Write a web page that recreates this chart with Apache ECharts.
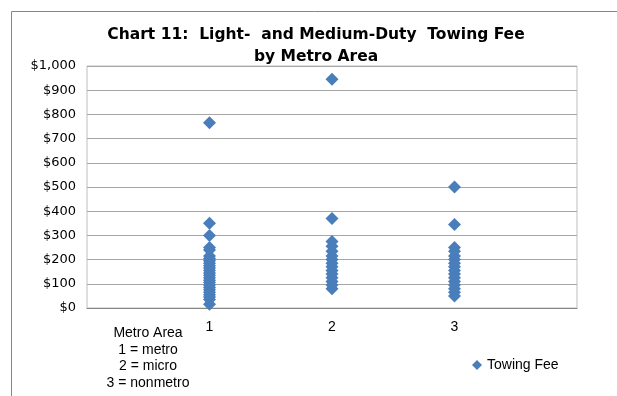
<!DOCTYPE html>
<html>
<head>
<meta charset="utf-8">
<script src="https://cdn.jsdelivr.net/npm/echarts@6/dist/echarts.min.js"></script>
<style>
  html, body { margin: 0; padding: 0; background: #fff; }
  #main { width: 617px; height: 396px; }
</style>
</head>
<body>
<div id="main"></div>
<script>
// towing fees, per metro area code
var metroFees = [765, 350, 300, 250, 240, 215, 205, 195, 185, 175, 165, 155, 145, 135, 125, 115, 105, 95, 85, 75, 65, 55, 45, 35, 15];
var microFees = [945, 370, 275, 255, 235, 215, 200, 185, 170, 155, 140, 125, 110, 95, 80];
var nonmetroFees = [500, 345, 250, 235, 215, 200, 185, 170, 155, 140, 125, 110, 95, 80, 65, 50];
var areaCodes = [1, 2, 3];
var seriesName = 'Towing Fee';

var groups = [metroFees, microFees, nonmetroFees];
var points = [];
groups.forEach(function (fees, i) {
  fees.forEach(function (v) { points.push([areaCodes[i], v]); });
});

var chart = echarts.init(document.getElementById('main'));
chart.setOption({
  animation: false,
  textStyle: { fontFamily: 'Liberation Sans, Arial, sans-serif' },
  title: [{
    text: 'Chart 11:  Light-  and Medium-Duty  Towing Fee\nby Metro Area',
    left: 311,
    top: 19,
    textAlign: 'center',
    textStyle: { fontSize: 15.5, fontWeight: 'bold', color: '#000', lineHeight: 22, fontFamily: 'DejaVu Sans' }
  }, {
    text: 'Metro Area\n1 = metro\n2 = micro\n3 = nonmetro',
    left: 143,
    top: 320,
    textAlign: 'center',
    textStyle: { fontSize: 14, fontWeight: 'normal', color: '#000', lineHeight: 16.5 }
  }],
  legend: {
    data: [seriesName],
    left: 467,
    top: 353,
    itemWidth: 10,
    itemHeight: 10,
    itemGap: 4,
    textStyle: { fontSize: 14, color: '#000' }
  },
  grid: {
    left: 87, right: 40, top: 66, bottom: 88,
    show: true, borderColor: '#bfbfbf', borderWidth: 1
  },
  xAxis: {
    type: 'value',
    min: 0, max: 4, interval: 1,
    axisLine: { show: true, lineStyle: { color: '#868686' } },
    axisTick: { show: false },
    splitLine: { show: false },
    axisLabel: {
      fontSize: 14, color: '#000', margin: 12,
      formatter: function (v) { return (v === 0 || v === 4) ? '' : String(v); }
    }
  },
  yAxis: {
    type: 'value',
    min: 0, max: 1000, interval: 100,
    axisLine: { show: false },
    axisTick: { show: false },
    splitLine: { lineStyle: { color: '#a6a6a6' } },
    axisLabel: {
      fontSize: 13, color: '#000', margin: 11, fontFamily: 'DejaVu Sans',
      formatter: function (v) { return '$' + v.toLocaleString('en-US'); }
    }
  },
  graphic: [{
    type: 'rect', left: 9, top: 9, silent: true,
    shape: { width: 700, height: 500 },
    style: { fill: 'none', stroke: '#868686', lineWidth: 1 }
  }],
  series: [{
    name: seriesName,
    type: 'scatter',
    symbol: 'diamond',
    symbolSize: 13,
    itemStyle: { color: '#4a7ebb', opacity: 1 },
    data: points
  }]
});
</script>
</body>
</html>
